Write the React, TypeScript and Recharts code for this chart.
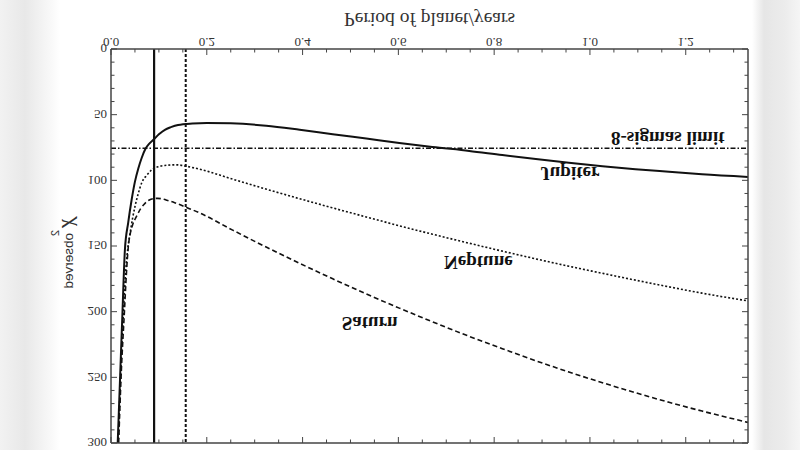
import React from "react";
import {
  LineChart,
  Line,
  XAxis,
  YAxis,
  ReferenceLine,
  ReferenceDot,
} from "recharts";

// chi^2 curves (period in years)
const jupiterPeriod = [
  0.014, 0.019, 0.024, 0.029, 0.036, 0.043, 0.05, 0.057, 0.064, 0.072, 0.08,
  0.09, 0.1, 0.1125, 0.125, 0.14, 0.17, 0.2, 0.25, 0.324, 0.394, 0.463, 0.533,
  0.602, 0.671, 0.748, 0.817, 0.887, 0.956, 1.026, 1.095, 1.165, 1.234, 1.33,
];
const jupiterChi2 = [
  300, 250, 200, 153, 132, 115, 101, 91, 83, 76, 72, 68.6, 65, 61.5, 59.5,
  57.8, 56.7, 56.3, 56.6, 58.4, 61.5, 64.9, 68.2, 71.5, 74.6, 77.6, 80.8, 83.8,
  86.6, 89.2, 91.5, 93.5, 95.4, 97.4,
];

const neptunePeriod = [
  0.015, 0.02, 0.026, 0.031, 0.035, 0.04, 0.045, 0.05, 0.057, 0.064, 0.075,
  0.085, 0.1, 0.1125, 0.125, 0.137, 0.16, 0.185, 0.254, 0.325, 0.394, 0.463,
  0.533, 0.602, 0.671, 0.748, 0.817, 0.887, 0.956, 1.026, 1.095, 1.165, 1.234,
  1.33,
];
const neptuneChi2 = [
  300, 250, 200, 168, 152, 140, 129, 120, 110, 102, 96, 92, 89.5, 88.7, 88.3,
  88.2, 89.5, 91.5, 99.1, 106.8, 114, 121, 127.9, 134.6, 141, 147.9, 153.9,
  159.8, 165.4, 170.8, 176, 181.1, 185.9, 191.8,
];

const saturnPeriod = [
  0.016, 0.021, 0.028, 0.032, 0.036, 0.04, 0.045, 0.053, 0.062, 0.071, 0.08,
  0.088, 0.097, 0.105, 0.12, 0.133, 0.16, 0.185, 0.254, 0.325, 0.394, 0.463,
  0.533, 0.602, 0.671, 0.748, 0.817, 0.887, 0.956, 1.026, 1.095, 1.165, 1.234,
  1.33,
];
const saturnChi2 = [
  300, 250, 200, 172, 151, 141, 134, 127.6, 121.5, 117.5, 115, 114, 113.7, 114,
  115.5, 117, 121, 124.8, 137.9, 151, 163.2, 175, 186.5, 197.3, 207.7, 218.8,
  228.2, 237.4, 245.9, 254.1, 261.7, 269, 275.7, 284.3,
];

const sigmaLimit = 75.5;
const solidMarker = 0.09;
const dottedMarker = 0.156;

const xTicks = [
  0, 0.05, 0.1, 0.15, 0.2, 0.25, 0.3, 0.35, 0.4, 0.45, 0.5, 0.55, 0.6, 0.65,
  0.7, 0.75, 0.8, 0.85, 0.9, 0.95, 1.0, 1.05, 1.1, 1.15, 1.2, 1.25, 1.3,
];
const yTicks = [
  0, 10, 20, 30, 40, 50, 60, 70, 80, 90, 100, 110, 120, 130, 140, 150, 160,
  170, 180, 190, 200, 210, 220, 230, 240, 250, 260, 270, 280, 290, 300,
];

const annotations = [
  { text: "8-sigmas limit", period: 1.1625, chi2: 68.4 },
  { text: "Jupiter", period: 0.958, chi2: 95 },
  { text: "Neptune", period: 0.767, chi2: 162.5 },
  { text: "Saturn", period: 0.54, chi2: 209 },
];

const toRows = (xs: number[], ys: number[]) =>
  xs.map((period, i) => ({ period, chi2: ys[i] }));

const jupiterData = toRows(jupiterPeriod, jupiterChi2);
const neptuneData = toRows(neptunePeriod, neptuneChi2);
const saturnData = toRows(saturnPeriod, saturnChi2);

const FRAME = "#444";
const INK = "#111";
const SERIF = "'Liberation Serif', 'DejaVu Serif', serif";
const SANS = "'Liberation Sans', Arial, sans-serif";

const isMajorX = (v: number) => Math.abs(v / 0.2 - Math.round(v / 0.2)) < 1e-6;
const isMajorY = (v: number) => v % 50 === 0;

const BottomTick = ({ x, y, payload }: any) => {
  const major = isMajorX(payload.value);
  return (
    <g>
      <line x1={x} y1={y} x2={x} y2={y - (major ? 6 : 3.5)} stroke={FRAME} />
      {major && (
        <text x={x} y={y + 11} textAnchor="middle" fontFamily={SERIF} fontSize={13} fill="#333">
          {payload.value.toFixed(1)}
        </text>
      )}
    </g>
  );
};

const TopTick = ({ x, y, payload }: any) => (
  <line x1={x} y1={y} x2={x} y2={y + (isMajorX(payload.value) ? 6 : 3.5)} stroke={FRAME} />
);

const LeftTick = ({ x, y, payload }: any) => {
  const major = isMajorY(payload.value);
  return (
    <g>
      <line x1={x} y1={y} x2={x + (major ? 6 : 3.5)} y2={y} stroke={FRAME} />
      {major && (
        <text x={x - 4} y={y} dy="0.35em" textAnchor="end" fontFamily={SERIF} fontSize={13} fill="#333">
          {payload.value}
        </text>
      )}
    </g>
  );
};

const RightTick = ({ x, y, payload }: any) => (
  <line x1={x} y1={y} x2={x - (isMajorY(payload.value) ? 6 : 3.5)} y2={y} stroke={FRAME} />
);

const XTitle = ({ viewBox }: any) => (
  <text
    x={viewBox.x + viewBox.width / 2}
    y={437}
    textAnchor="middle"
    fontFamily={SERIF}
    fontSize={19.5}
    fill="#333"
  >
    Period of planet/years
  </text>
);

const YTitle = () => (
  <g transform="translate(72, 232) rotate(-90)" fill="#333">
    <text x={0} y={0} fontFamily={SERIF} fontStyle="italic" fontSize={22}>
      χ
    </text>
    <text x={12} y={-13} fontFamily={SANS} fontSize={11}>
      2
    </text>
    <text x={15} y={1} fontFamily={SANS} fontSize={13.5}>
      observed
    </text>
  </g>
);

const annotationLabel = (text: string) => ({ viewBox }: any) => (
  <text
    x={viewBox.x + viewBox.width / 2}
    y={viewBox.y + viewBox.height / 2}
    textAnchor="middle"
    dominantBaseline="central"
    fontFamily={SERIF}
    fontWeight="bold"
    fontSize={19}
    fill={INK}
  >
    {text}
  </text>
);

export default function App() {
  return (
    <div
      style={{
        position: "absolute",
        left: 0,
        top: 0,
        width: 800,
        height: 450,
        background:
          "linear-gradient(to right, #f2f2f2 0px, #e8e8e8 25px, #f8f8f8 50px, #fff 60px, #fff 752px, #e6e6e6 764px, #ececec 785px, #f5f5f5 800px)",
      }}
    >
      {/* the reference is the original figure mirrored top-to-bottom */}
      <div style={{ width: 800, height: 450, transform: "scaleY(-1)" }}>
        <LineChart width={800} height={450} margin={{ top: 0, right: 0, bottom: 0, left: 0 }}>
          <XAxis
            dataKey="period"
            type="number"
            domain={[0, 1.33]}
            allowDataOverflow
            ticks={xTicks}
            interval={0}
            height={49}
            tickSize={0}
            tickMargin={0}
            tickLine={false}
            tick={<BottomTick />}
            axisLine={{ stroke: FRAME, strokeWidth: 1.5 }}
            label={{ content: XTitle }}
          />
          <XAxis
            xAxisId="top"
            orientation="top"
            dataKey="period"
            type="number"
            domain={[0, 1.33]}
            allowDataOverflow
            ticks={xTicks}
            interval={0}
            height={7}
            tickSize={0}
            tickMargin={0}
            tickLine={false}
            tick={<TopTick />}
            axisLine={{ stroke: FRAME, strokeWidth: 1.5 }}
          />
          <YAxis
            type="number"
            domain={[0, 300]}
            allowDataOverflow
            ticks={yTicks}
            interval={0}
            width={111}
            tickSize={0}
            tickMargin={0}
            tickLine={false}
            tick={<LeftTick />}
            axisLine={{ stroke: FRAME, strokeWidth: 1.5 }}
            label={{ content: YTitle }}
          />
          <YAxis
            yAxisId="right"
            orientation="right"
            type="number"
            domain={[0, 300]}
            allowDataOverflow
            ticks={yTicks}
            interval={0}
            width={52}
            tickSize={0}
            tickMargin={0}
            tickLine={false}
            tick={<RightTick />}
            axisLine={{ stroke: FRAME, strokeWidth: 1.5 }}
          />

          <ReferenceLine x={solidMarker} stroke={INK} strokeWidth={2.2} />
          <ReferenceLine x={dottedMarker} stroke={INK} strokeWidth={2} strokeDasharray="3 2" />
          <ReferenceLine y={sigmaLimit} stroke={INK} strokeWidth={1.5} strokeDasharray="5 2 1.5 2" />

          <Line
            data={jupiterData}
            dataKey="chi2"
            type="monotone"
            stroke={INK}
            strokeWidth={2}
            dot={false}
            isAnimationActive={false}
          />
          <Line
            data={neptuneData}
            dataKey="chi2"
            type="monotone"
            stroke={INK}
            strokeWidth={1.6}
            strokeDasharray="2 2"
            dot={false}
            isAnimationActive={false}
          />
          <Line
            data={saturnData}
            dataKey="chi2"
            type="monotone"
            stroke={INK}
            strokeWidth={1.6}
            strokeDasharray="5 3"
            dot={false}
            isAnimationActive={false}
          />

          {annotations.map((a) => (
            <ReferenceDot
              key={a.text}
              x={a.period}
              y={a.chi2}
              r={1}
              fill="none"
              stroke="none"
              label={{ content: annotationLabel(a.text) }}
            />
          ))}
        </LineChart>
      </div>
    </div>
  );
}
